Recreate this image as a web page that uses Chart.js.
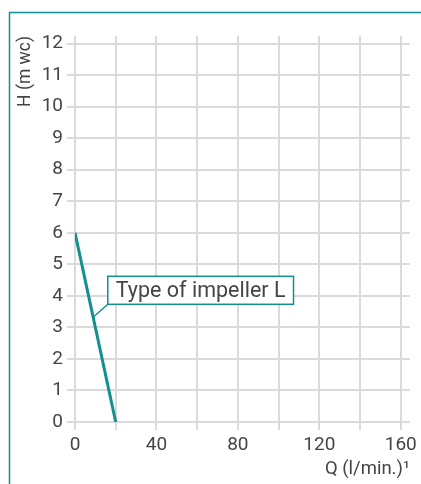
<!DOCTYPE html>
<html>
<head>
<meta charset="utf-8">
<script src="https://cdn.jsdelivr.net/npm/chart.js@4/dist/chart.umd.min.js"></script>
<style>
  html, body { margin: 0; padding: 0; background: #fff; }
  #wrap { width: 421px; height: 484px; position: relative; }
</style>
</head>
<body>
<div id="wrap"><canvas id="c" width="421" height="484"></canvas></div>
<script>
// data
const flowQ = [0, 20];          // Q (l/min.)
const headH = [6, 0];           // H (m wc)
const xTicks = [0, 20, 40, 60, 80, 100, 120, 140, 160];
const yTicks = [0, 1, 2, 3, 4, 5, 6, 7, 8, 9, 10, 11, 12];
const labelText = "Type of impeller L";
const labelAt = [16.1, 4.62];   // box top-left (x, y)
const labelPoint = [8.9, 3.32]; // where the leader meets the curve

const teal = "#12908f";
const grey = "#454545";
const gridCol = "#dadada";
const font = "Roboto, sans-serif";

// frame + label box
const extras = {
  id: "extras",
  beforeDraw(chart) {
    const ctx = chart.ctx;
    ctx.save();
    ctx.strokeStyle = teal;
    ctx.lineWidth = 1.5;
    ctx.beginPath();
    ctx.moveTo(421, 12.5);
    ctx.lineTo(9.5, 12.5);
    ctx.lineTo(9.5, 484);
    ctx.stroke();
    ctx.restore();
  },
  afterDatasetsDraw(chart) {
    const { ctx, scales: { x, y } } = chart;
    ctx.save();
    ctx.font = "21.5px " + font;
    const w = ctx.measureText(labelText).width + 16;
    const h = 28;
    const bx = x.getPixelForValue(labelAt[0]);
    const by = y.getPixelForValue(labelAt[1]);
    ctx.strokeStyle = teal;
    ctx.lineWidth = 1.5;
    ctx.beginPath();
    ctx.moveTo(bx, by + h);
    ctx.lineTo(x.getPixelForValue(labelPoint[0]), y.getPixelForValue(labelPoint[1]));
    ctx.stroke();
    ctx.fillStyle = "#fff";
    ctx.fillRect(bx, by, w, h);
    ctx.strokeRect(bx, by, w, h);
    ctx.fillStyle = grey;
    ctx.textBaseline = "middle";
    ctx.fillText(labelText, bx + 8, by + h / 2 + 1);
    ctx.restore();
  }
};

new Chart(document.getElementById("c"), {
  type: "line",
  data: {
    datasets: [{
      data: flowQ.map((q, i) => ({ x: q, y: headH[i] })),
      borderColor: teal,
      borderWidth: 3,
      pointRadius: 0,
      fill: false
    }]
  },
  options: {
    responsive: false,
    animation: false,
    events: [],
    layout: { padding: { top: 36, right: 9, left: 0, bottom: 0 } },
    plugins: { legend: { display: false }, tooltip: { enabled: false } },
    scales: {
      x: {
        type: "linear",
        min: 0, max: 164.4,
        afterBuildTicks: s => { s.ticks = xTicks.map(v => ({ value: v })); },
        afterFit: s => { s.height = 62; },
        grid: { color: gridCol, lineWidth: 2, tickLength: 8 },
        border: { display: false },
        ticks: {
          color: grey, font: { family: font, size: 19 }, padding: 4,
          maxRotation: 0, autoSkip: false,
          callback: v => (v % 40 === 0 ? v : "")
        },
        title: {
          display: true, text: "Q (l/min.)¹", align: "end",
          color: grey, font: { family: font, size: 18.5 }, padding: { top: 4 }
        }
      },
      y: {
        type: "linear",
        min: 0, max: 12.24,
        afterBuildTicks: s => { s.ticks = yTicks.map(v => ({ value: v })); },
        afterFit: s => { s.width = 75; },
        grid: { color: gridCol, lineWidth: 2, tickLength: 8 },
        border: { display: false },
        ticks: { color: grey, font: { family: font, size: 19 }, padding: 4, autoSkip: false },
        title: {
          display: true, text: "H (m wc)", align: "end",
          color: grey, font: { family: font, size: 17.5 }, padding: { top: 15, bottom: 0 }
        }
      }
    }
  },
  plugins: [extras]
});
</script>
</body>
</html>
